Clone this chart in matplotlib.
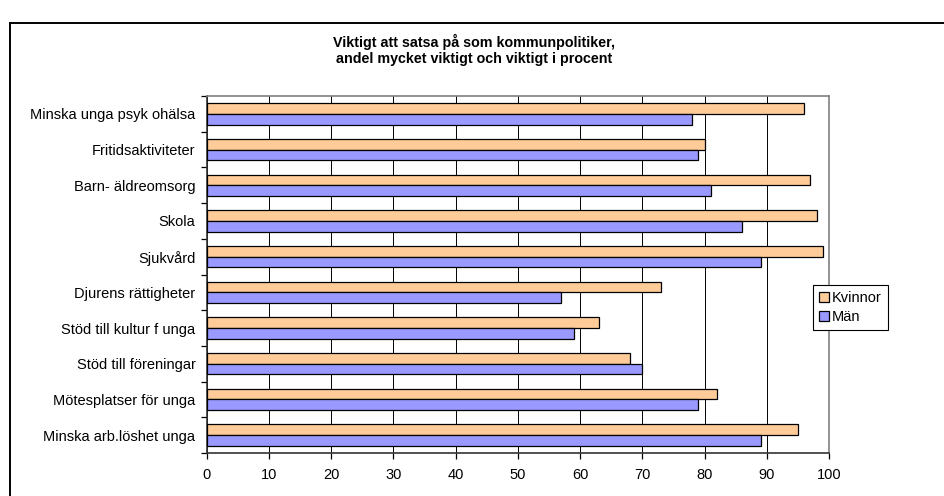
import matplotlib
matplotlib.use('Agg')
import matplotlib.pyplot as plt
from matplotlib.lines import Line2D
import numpy as np

plt.rcParams['font.family'] = ['Liberation Sans', 'DejaVu Sans']

# categories from bottom to top (Excel order)
categories = [
    "Minska arb.löshet unga",
    "Mötesplatser för unga",
    "Stöd till föreningar",
    "Stöd till kultur f unga",
    "Djurens rättigheter",
    "Sjukvård",
    "Skola",
    "Barn- äldreomsorg",
    "Fritidsaktiviteter",
    "Minska unga psyk ohälsa",
]
kvinnor = [95, 82, 68, 63, 73, 99, 98, 97, 80, 96]
man = [89, 79, 70, 59, 57, 89, 86, 81, 79, 78]
xticks = [0, 10, 20, 30, 40, 50, 60, 70, 80, 90, 100]

title = "Viktigt att satsa på som kommunpolitiker,\nandel mycket viktigt och viktigt i procent"

W, H = 944, 496
fig = plt.figure(figsize=(W / 100, H / 100), dpi=100)
ax = fig.add_axes([206.5 / W, 1 - 453 / H, (829 - 206.5) / W, (453 - 96) / H])

y = np.arange(len(categories))
bh = 0.3
ax.barh(y + bh / 2, kvinnor, height=bh, color='#FFCC99', edgecolor='black',
        linewidth=0.9, label='Kvinnor', zorder=3)
ax.barh(y - bh / 2, man, height=bh, color='#9999FF', edgecolor='black',
        linewidth=0.9, label='Män', zorder=3)

ax.set_xlim(0, 100)
ax.set_ylim(-0.5, len(categories) - 0.5)
ax.set_xticks(xticks)
ax.set_xticklabels([str(t) for t in xticks], fontsize=10.5)
ax.set_yticks(y)
ax.set_yticklabels(categories, fontsize=10.5)
ax.set_yticks(np.arange(-0.5, len(categories)), minor=True)
ax.tick_params(axis='y', which='major', length=0, pad=8)
ax.tick_params(axis='y', which='minor', length=4, width=0.9, direction='out')
ax.tick_params(axis='x', length=4, width=0.9, direction='out', pad=7)

ax.grid(axis='x', color='black', linewidth=0.7, zorder=0)
for s in ['top', 'right']:
    ax.spines[s].set_color('#808080')
    ax.spines[s].set_linewidth(1.2)
for s in ['left', 'bottom']:
    ax.spines[s].set_color('#333333')
    ax.spines[s].set_linewidth(1.2)

fig.text(474 / W, 1 - 50 / H, title, ha='center', va='center', fontsize=10.3,
         fontweight='bold', linespacing=1.2)

handles, labels = ax.get_legend_handles_labels()
leg = fig.legend(handles, labels, loc='upper left',
                 bbox_to_anchor=(813 / W, 1 - 285 / H), fontsize=10.5,
                 frameon=True, fancybox=False, edgecolor='black', framealpha=1,
                 handlelength=0.7, handleheight=0.7, handletextpad=0.2,
                 borderpad=0.4, labelspacing=0.35, borderaxespad=0)
leg.get_frame().set_linewidth(0.8)

# outer chart frame (cut at the right and bottom edges)
fig.add_artist(Line2D([9.5 / W, 9.5 / W], [0, 1 - 22.5 / H], color='black',
                      linewidth=1.4, transform=fig.transFigure))
fig.add_artist(Line2D([9.5 / W, 1], [1 - 22.5 / H, 1 - 22.5 / H], color='black',
                      linewidth=1.4, transform=fig.transFigure))

fig.savefig('out.png', dpi=100)
